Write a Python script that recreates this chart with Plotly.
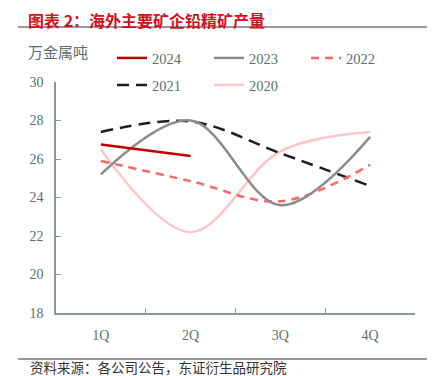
import plotly.graph_objects as go

quarters = ["1Q", "2Q", "3Q", "4Q"]
y2024 = [26.75, 26.15]
y2023 = [25.2, 28.0, 23.6, 27.15]
y2022 = [25.9, 24.85, 23.8, 25.7]
y2021 = [27.4, 27.95, 26.3, 24.6]
y2020 = [26.5, 22.2, 26.4, 27.4]
yticks = [18, 20, 22, 24, 26, 28, 30]

serif = "Liberation Serif, DejaVu Serif, serif"
cjk = "Noto Sans CJK SC, sans-serif"
txt = "#5b6f6b"
axc = "#8a9a96"

# page body has an 8px margin: figure is drawn 8px right/down
W, H = 427, 368
PW, PH = 359, 231

fig = go.Figure()
series = [
    ("2024", quarters[:2], y2024, "#c00000", "solid", "legend"),
    ("2023", quarters, y2023, "#8c8c8c", "solid", "legend"),
    ("2022", quarters, y2022, "#ff6666", "8px,6px", "legend"),
    ("2021", quarters, y2021, "#1e1e1e", "12px,7px", "legend2"),
    ("2020", quarters, y2020, "#ffc4c4", "solid", "legend2"),
]
for name, xs, ys, col, dash, lg in reversed(series):
    fig.add_trace(go.Scatter(
        x=xs, y=ys, name=name, mode="lines",
        line=dict(color=col, width=2.5, dash=dash, shape="spline", smoothing=1),
        legend=lg,
    ))

legend_common = dict(
    orientation="h", xref="container", yref="container",
    xanchor="left", yanchor="middle", entrywidth=52, entrywidthmode="pixels",
    font=dict(family=serif, size=14.5, color=txt), bgcolor="rgba(0,0,0,0)",
    traceorder="reversed", itemwidth=30,
)
fig.update_layout(
    width=W, height=H,
    margin=dict(l=48, r=20, t=74, b=63, autoexpand=False),
    paper_bgcolor="white", plot_bgcolor="white",
    showlegend=True,
    legend=dict(x=104/W, y=1-50/H, **legend_common),
    legend2=dict(x=104/W, y=1-77/H, **legend_common),
    xaxis=dict(
        type="category", categoryorder="array", categoryarray=quarters,
        range=[-0.5, 3.5], showgrid=False, showline=True, linecolor=axc, linewidth=1.5,
        ticks="inside", ticklen=5, tickcolor=axc, tickwidth=1.2, tickson="boundaries",
        tickfont=dict(family=serif, size=14, color=txt), ticklabelstandoff=8,
        zeroline=False, fixedrange=True,
    ),
    yaxis=dict(
        range=[18, 30], tickvals=yticks, showgrid=False, showline=True,
        linecolor=axc, linewidth=1.5, ticks="inside", ticklen=5, tickcolor=axc, tickwidth=1.2,
        tickfont=dict(family=serif, size=14, color=txt), ticklabelstandoff=8,
        zeroline=False, fixedrange=True,
    ),
    shapes=[
        dict(type="line", xref="paper", yref="paper", x0=-38/PW, x1=379/PW,
             y0=1+55/PH, y1=1+55/PH, line=dict(color="#333333", width=1.2)),
        dict(type="line", xref="paper", yref="paper", x0=-38/PW, x1=379/PW,
             y0=-46/PH, y1=-46/PH, line=dict(color="#333333", width=1.2)),
    ],
    annotations=[
        dict(text="<b>图表 2：海外主要矿企铅精矿产量</b>", xref="paper", yref="paper",
             x=-30/PW, y=1+62/PH, xanchor="left", yanchor="middle", showarrow=False,
             font=dict(family=cjk, size=16, color="#d0121b")),
        dict(text="万金属吨", xref="paper", yref="paper",
             x=-30/PW, y=1+30/PH, xanchor="left", yanchor="middle", showarrow=False,
             font=dict(family=cjk, size=15, color=txt)),
        dict(text="资料来源：各公司公告，东证衍生品研究院", xref="paper", yref="paper",
             x=-28/PW, y=-54/PH, xanchor="left", yanchor="middle", showarrow=False,
             font=dict(family=cjk, size=13.5, color="#333333")),
    ],
)
fig.write_html("out.html")
